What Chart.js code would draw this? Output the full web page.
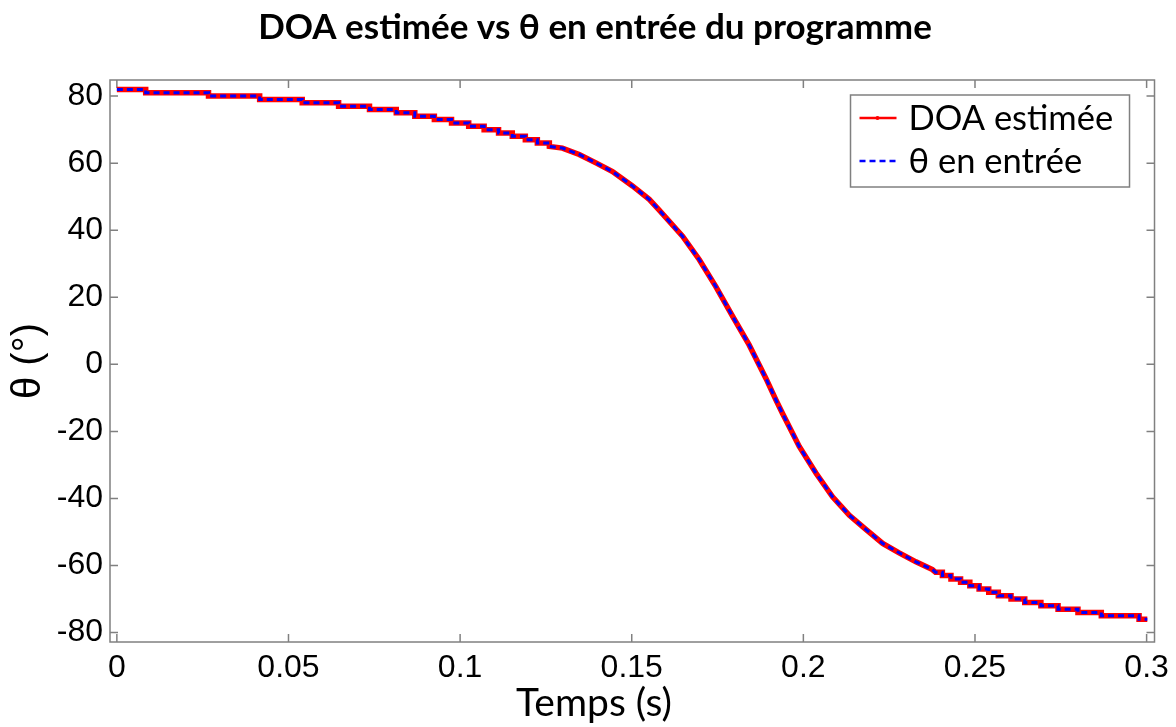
<!DOCTYPE html>
<html>
<head>
<meta charset="utf-8">
<script src="https://cdn.jsdelivr.net/npm/chart.js@4"></script>
<style>
  html, body { margin: 0; background: #fff; }
</style>
</head>
<body>
<canvas id="doa" width="1176" height="727"></canvas>
<script>
/* DOA estimée vs θ en entrée.
 * Flat parts keep the 1° stair-steps (corner points), the steep part is sampled. */
const temps = [
  0, 0.0084, 0.0084, 0.0267, 0.0267, 0.0416, 0.0416, 0.054, 0.054, 0.0646, 0.0646,
  0.0736, 0.0736, 0.0814, 0.0814, 0.0868, 0.0868, 0.0925, 0.0925, 0.0975, 0.0975,
  0.1025, 0.1025, 0.107, 0.107, 0.1112, 0.1112, 0.1152, 0.1152, 0.119, 0.119,
  0.1225, 0.1225, 0.126, 0.126,
  0.1298, 0.1347, 0.1397, 0.1444, 0.1502, 0.1551, 0.158, 0.1648, 0.1697, 0.1745,
  0.1794, 0.1842, 0.1891, 0.192, 0.1939, 0.1988, 0.2037, 0.2085, 0.2134, 0.2182,
  0.2231, 0.2279, 0.2328, 0.2376,
  0.2385, 0.2405, 0.2405, 0.243, 0.243, 0.2458, 0.2458, 0.2485, 0.2485, 0.2512,
  0.2512, 0.254, 0.254, 0.2568, 0.2568, 0.2605, 0.2605, 0.2645, 0.2645, 0.2692,
  0.2692, 0.2742, 0.2742, 0.28, 0.28, 0.2868, 0.2868, 0.2978, 0.2978, 0.3002,
];
const doaEstimee = [
  82, 82, 81, 81, 80, 80, 79, 79, 78, 78, 77,
  77, 76, 76, 75, 75, 74, 74, 73, 73, 72,
  72, 71, 71, 70, 70, 69, 69, 68, 68, 67,
  67, 66, 66, 65,
  64.5, 62.6, 60.0, 57.5, 53.2, 49.2, 46.0, 38.2, 31.2, 23.2,
  14.3, 5.8, -4.2, -10.6, -14.6, -24.5, -32.5, -39.5, -45.0, -49.2,
  -53.4, -56.2, -58.9, -61.2,
  -62, -62, -63, -63, -64, -64, -65, -65, -66, -66,
  -67, -67, -68, -68, -69, -69, -70, -70, -71, -71,
  -72, -72, -73, -73, -74, -74, -75, -75, -76, -76,
];
// the input angle lies exactly under the estimate in the picture
const thetaEntree = doaEstimee.slice();

const xTicks = [0, 0.05, 0.1, 0.15, 0.2, 0.25, 0.3];
const yTicks = [-80, -60, -40, -20, 0, 20, 40, 60, 80];

const TITLE = 'DOA estimée vs θ en entrée du programme';
const X_TITLE = 'Temps (s)';

const AXIS = '#808080';
const TICK_FONT = { family: "'Liberation Sans', Arial, sans-serif", size: 32 };
const TEXT_FONT = "Lato, 'Open Sans', sans-serif";

const pts = (ys) => temps.map((t, i) => ({ x: t, y: ys[i] }));

// matlab-like box with inward ticks on all four sides, the boxed legend,
// and the figure-centred titles (centred on the page, not on the axes)
const frame = {
  id: 'frame',
  beforeDatasetsDraw(chart) {
    const { ctx, chartArea: a, scales } = chart;
    ctx.save();
    ctx.strokeStyle = AXIS;
    ctx.lineWidth = 1.5;
    ctx.strokeRect(a.left, a.top, a.right - a.left, a.bottom - a.top);
    ctx.beginPath();
    xTicks.forEach((v) => {
      const px = scales.x.getPixelForValue(v);
      ctx.moveTo(px, a.bottom); ctx.lineTo(px, a.bottom - 8);
      ctx.moveTo(px, a.top); ctx.lineTo(px, a.top + 8);
    });
    yTicks.forEach((v) => {
      const py = scales.y.getPixelForValue(v);
      ctx.moveTo(a.left, py); ctx.lineTo(a.left + 8, py);
      ctx.moveTo(a.right, py); ctx.lineTo(a.right - 8, py);
    });
    ctx.stroke();
    ctx.restore();
  },
  afterDraw(chart) {
    const { ctx, chartArea: a } = chart;
    ctx.save();
    ctx.fillStyle = '#000';
    ctx.textAlign = 'center';
    ctx.textBaseline = 'middle';
    ctx.font = 'bold 35px ' + TEXT_FONT;
    ctx.fillText(TITLE, 595, 28);
    ctx.textBaseline = 'alphabetic';
    ctx.font = '39px ' + TEXT_FONT;
    ctx.fillText(X_TITLE, 594, 716);

    const w = 279, h = 92;
    const x0 = a.right - 25 - w, y0 = a.top + 15;
    ctx.textAlign = 'left';
    ctx.fillStyle = '#fff';
    ctx.fillRect(x0, y0, w, h);
    ctx.strokeStyle = AXIS;
    ctx.lineWidth = 1.5;
    ctx.strokeRect(x0, y0, w, h);
    ctx.font = '34.5px ' + TEXT_FONT;
    ctx.textBaseline = 'middle';
    chart.data.datasets.forEach((ds, i) => {
      const y = y0 + 23 + i * 43;
      ctx.strokeStyle = ds.borderColor;
      ctx.lineWidth = 2.5;
      ctx.setLineDash(ds.borderDash || []);
      ctx.beginPath();
      ctx.moveTo(x0 + 9, y); ctx.lineTo(x0 + 46, y);
      ctx.stroke();
      ctx.setLineDash([]);
      if (!ds.borderDash) {
        ctx.fillStyle = ds.borderColor;
        ctx.beginPath(); ctx.arc(x0 + 27, y, 2, 0, Math.PI * 2); ctx.fill();
      }
      ctx.fillStyle = '#000';
      ctx.fillText(ds.label, x0 + 58, y + 1);
    });
    ctx.restore();
  },
};

new Chart(document.getElementById('doa'), {
  type: 'line',
  data: {
    datasets: [
      {
        label: 'DOA estimée',
        data: pts(doaEstimee),
        borderColor: '#ff0000',
        borderWidth: 5.5,
        pointRadius: 0,
        tension: 0,
        order: 2,
      },
      {
        label: 'θ en entrée',
        data: pts(thetaEntree),
        borderColor: '#0000ff',
        borderWidth: 3,
        borderDash: [6, 4],
        pointRadius: 0,
        tension: 0,
        order: 1,
      },
    ],
  },
  options: {
    responsive: false,
    animation: false,
    layout: { padding: { left: 0, right: 19, top: 80, bottom: 0 } },
    scales: {
      x: {
        type: 'linear',
        min: -0.002,
        max: 0.3023,
        afterBuildTicks: (s) => { s.ticks = xTicks.map((v) => ({ value: v })); },
        afterFit: (s) => { s.height = 85; },
        grid: { display: false, drawTicks: false },
        border: { display: false },
        ticks: { color: '#000', font: TICK_FONT, padding: 7, maxRotation: 0, callback: (v) => String(v) },
      },
      y: {
        min: -82.8,
        max: 84.8,
        afterBuildTicks: (s) => { s.ticks = yTicks.map((v) => ({ value: v })); },
        afterFit: (s) => { s.width = 110; },
        grid: { display: false, drawTicks: false },
        border: { display: false },
        ticks: { color: '#000', font: TICK_FONT, padding: 7, callback: (v) => String(v) },
        title: { display: true, text: 'θ (°)', color: '#000', font: { family: TICK_FONT.family, size: 40 }, padding: 5 },
      },
    },
    plugins: {
      legend: { display: false },
      tooltip: { enabled: false },
    },
  },
  plugins: [frame],
});
</script>
</body>
</html>
